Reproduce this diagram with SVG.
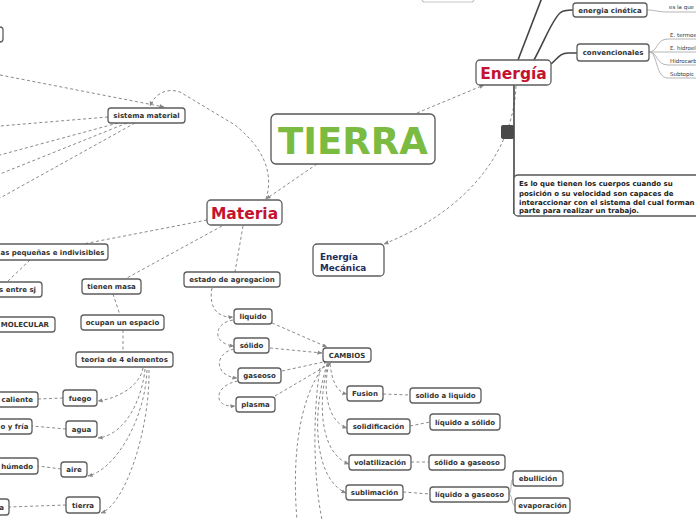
<svg xmlns="http://www.w3.org/2000/svg" width="696" height="520" viewBox="0 0 696 520">
<style>
.b{fill:#fff;stroke:#5e5e5e;stroke-width:1.3}
.t{font-family:"DejaVu Sans",Verdana,sans-serif;font-weight:bold;font-size:7px;fill:#333;text-anchor:middle}
.te{font-family:"DejaVu Sans",Verdana,sans-serif;font-weight:bold;font-size:7px;fill:#333;text-anchor:end}
.ts{font-family:"DejaVu Sans",Verdana,sans-serif;font-weight:bold;font-size:7px;fill:#333}
.d{fill:none;stroke:#8a8a8a;stroke-width:1;stroke-dasharray:3 2.5}
.s{fill:none;stroke:#444;stroke-width:1.6}
.l{fill:none;stroke:#b5b5b5;stroke-width:1}
.sm{font-family:"DejaVu Sans",Verdana,sans-serif;font-size:5.5px;fill:#333}
.big{font-family:"DejaVu Sans",Verdana,sans-serif;font-weight:bold;fill:#c41230;text-anchor:middle}
</style>
<defs>
<marker id="a" viewBox="0 0 6 6" refX="5.5" refY="3" markerWidth="5" markerHeight="5" markerUnits="userSpaceOnUse" orient="auto">
<path d="M0,0.5 L6,3 L0,5.5 Z" fill="#888"/>
</marker>
</defs>
<rect width="696" height="520" fill="#fff"/>
<g id="connectors">
<path class="d" d="M0,75 L164,107" marker-end="url(#a)"/>
<path class="d" d="M266,199 C275,170 260,145 235,125 L180,92 C168,88 156,92 150,106" marker-end="url(#a)"/>
<path class="d" d="M108,117 L0,126"/>
<path class="d" d="M118,123 L0,155"/>
<path class="d" d="M127,123 L0,174"/>
<path class="d" d="M135,123 L0,198"/>
<path class="d" d="M317,164 L266,199" marker-end="url(#a)"/>
<path class="d" d="M417,113 L484,85" marker-end="url(#a)"/>
<path class="d" d="M516,86 C514,140 480,205 384,244" marker-end="url(#a)"/>
<path class="d" d="M207,220 L83,244"/>
<path class="d" d="M30,260 L8,281"/>
<path class="d" d="M222,226 L125,279"/>
<path class="d" d="M243,226 L235,272"/>
<path class="d" d="M113,294 L120,315"/>
<path class="d" d="M123,330 L123,352"/>
<path class="d" d="M212,288 C208,310 220,318 233,317" marker-end="url(#a)"/>
<path class="d" d="M233,320 C213,323 212,344 234,346" marker-end="url(#a)"/>
<path class="d" d="M234,349 C214,353 214,376 237,378" marker-end="url(#a)"/>
<path class="d" d="M238,381 C214,385 212,408 235,406" marker-end="url(#a)"/>
<path class="d" d="M272,323 L327,347" marker-end="url(#a)"/>
<path class="d" d="M270,348 L322,353" marker-end="url(#a)"/>
<path class="d" d="M282,371 L328,361" marker-end="url(#a)"/>
<path class="d" d="M275,396 L331,363" marker-end="url(#a)"/>
<path class="d" d="M330,364 C332,380 336,392 347,394" marker-end="url(#a)"/>
<path class="d" d="M329,364 C322,390 328,422 347,428" marker-end="url(#a)"/>
<path class="d" d="M328,364 C316,410 323,455 349,464" marker-end="url(#a)"/>
<path class="d" d="M327,364 C310,420 316,480 346,493" marker-end="url(#a)"/>
<path class="d" d="M324,366 C298,400 292,460 297,520"/>
<path class="d" d="M320,368 C312,420 314,480 322,520"/>
<path class="d" d="M383,394 L410,395"/>
<path class="d" d="M410,426 L430,422"/>
<path class="d" d="M411,462 L429,462"/>
<path class="d" d="M403,492 L430,494"/>
<path class="l" d="M509,494 C512,494 510,479 513,479"/>
<path class="l" d="M509,494 C512,494 512,506 515,506"/>
<path class="d" d="M143,368 C140,385 120,398 98,401" marker-end="url(#a)"/>
<path class="d" d="M145,369 C142,400 125,435 98,438" marker-end="url(#a)"/>
<path class="d" d="M147,370 C145,420 115,470 88,476" marker-end="url(#a)"/>
<path class="d" d="M149,370 C150,430 125,505 101,513" marker-end="url(#a)"/>
<path class="d" d="M63,398 L38,399"/>
<path class="d" d="M66,429 L32,426"/>
<path class="d" d="M61,469 L38,466"/>
<path class="d" d="M66,505 L9,507"/>
<path class="s" d="M518,60 L543,-5"/>
<path class="s" d="M534,60 C545,40 552,20 560,13 Q563,10 573,10"/>
<path class="s" d="M551,64 C558,58 560,53 568,53 L577,53"/>
<path class="s" d="M514,85 L514,214"/>
<path class="l" d="M647,10 C655,10 658,12 668,12 L696,12"/>
<path class="l" d="M649,52 C658,52 656,39 668,39 L696,39"/>
<path class="l" d="M649,52 C658,52 658,52 668,52 L696,52"/>
<path class="l" d="M649,52 C658,52 656,65 668,65 L696,65"/>
<path class="l" d="M649,52 C658,52 655,78 668,78 L696,78"/>
</g>
<g id="partial-top"><rect x="422" y="-14" width="52" height="16" rx="3" fill="#fff" stroke="#c8c8c8" stroke-width="1.2"/></g>
<g id="partial-topleft"><rect class="b" x="-40" y="27" width="43" height="15" rx="3"/></g>
<g id="tierra-main"><rect x="271" y="114" width="164" height="50" rx="5" fill="#fff" stroke="#555" stroke-width="1.3"/><text x="353" y="154" font-family="DejaVu Sans,Verdana,sans-serif" font-weight="bold" font-size="37" fill="#7cbb42" text-anchor="middle">TIERRA</text></g>
<g id="sistema"><rect class="b" x="108" y="108" width="77" height="15" rx="3"/><text class="t" x="146.5" y="118">sistema material</text></g>
<g id="energia"><rect class="b" x="476" y="60" width="75" height="25" rx="4"/><text class="big" x="513.5" y="78.5" font-size="15.5">Energía</text></g>
<g id="materia"><rect class="b" x="207" y="200" width="75" height="25" rx="4"/><text class="big" x="244.5" y="218.5" font-size="15.5">Materia</text></g>
<g id="cinetica"><rect class="b" x="573" y="3" width="74" height="14" rx="3"/><text class="t" x="610" y="12.5">energia cinética</text></g>
<g id="cinetica-sub"><text class="sm" x="669" y="8.5">es la que</text></g>
<g id="convencionales"><rect class="b" x="577" y="44" width="72" height="17" rx="3"/><text class="t" x="613" y="55">convencionales</text></g>
<g id="conv-subs"><text class="sm" x="670" y="36.5">E. termoe</text><text class="sm" x="670" y="49.5">E. hidroel</text><text class="sm" x="670" y="62.5">Hidrocarb</text><text class="sm" x="670" y="75.5">Subtopic</text></g>
<g id="collapse"><rect x="501" y="125" width="13" height="14" rx="2" fill="#4a4a4a"/></g>
<g id="descripcion"><rect x="514" y="175" width="200" height="41" rx="4" fill="#fff" stroke="#555" stroke-width="1.3"/>
<text font-family="DejaVu Sans,Verdana,sans-serif" font-weight="bold" font-size="7" fill="#222"><tspan x="519" y="186">Es lo que tienen los cuerpos cuando su</tspan><tspan x="519" y="195.5">posición o su velocidad son capaces de</tspan><tspan x="519" y="205">interaccionar con el sistema del cual forman</tspan><tspan x="519" y="213">parte para realizar un trabajo.</tspan></text></g>
<g id="mecanica"><rect class="b" x="313" y="244" width="71" height="32" rx="4"/><text font-family="DejaVu Sans,Verdana,sans-serif" font-weight="bold" font-size="8.8" fill="#1c2c5c"><tspan x="320" y="260">Energía</tspan><tspan x="320" y="271">Mecánica</tspan></text></g>
<g id="pequenas"><rect class="b" x="-60" y="244" width="168" height="16" rx="3"/><text class="ts" x="0.5" y="255" font-size="6.8">as pequeñas e indivisibles</text></g>
<g id="entre"><rect class="b" x="-30" y="282" width="72" height="15" rx="3"/><text class="te" x="36" y="292">s entre sj</text></g>
<g id="molecular"><rect class="b" x="-20" y="317" width="75" height="15" rx="3"/><text class="te" x="49" y="327">MOLECULAR</text></g>
<g id="masa"><rect class="b" x="82" y="279" width="59" height="15" rx="3"/><text class="t" x="111.5" y="289">tienen masa</text></g>
<g id="espacio"><rect class="b" x="81" y="315" width="83" height="15" rx="3"/><text class="t" x="122.5" y="325">ocupan un espacio</text></g>
<g id="teoria"><rect class="b" x="76" y="352" width="97" height="15" rx="3"/><text class="t" x="124.5" y="362">teoria de 4 elementos</text></g>
<g id="fuego"><rect class="b" x="63" y="390" width="34" height="16" rx="3"/><text class="t" x="80" y="400.5">fuego</text></g>
<g id="agua"><rect class="b" x="66" y="421" width="31" height="16" rx="3"/><text class="t" x="81.5" y="431.5">agua</text></g>
<g id="aire"><rect class="b" x="61" y="462" width="26" height="15" rx="3"/><text class="t" x="74" y="472">aire</text></g>
<g id="tierra"><rect class="b" x="66" y="497" width="34" height="16" rx="3"/><text class="t" x="83" y="507.5">tierra</text></g>
<g id="caliente"><rect class="b" x="-30" y="392" width="68" height="15" rx="3"/><text class="te" x="33" y="402">caliente</text></g>
<g id="fria"><rect class="b" x="-30" y="419" width="62" height="15" rx="3"/><text class="ts" x="0.5" y="429">o y fría</text></g>
<g id="humedo"><rect class="b" x="-30" y="458" width="68" height="16" rx="3"/><text class="te" x="33" y="469">húmedo</text></g>
<g id="seca"><rect class="b" x="-30" y="499" width="39" height="16" rx="3"/><text class="te" x="4" y="510">a</text></g>
<g id="estado"><rect class="b" x="184" y="272" width="96" height="15" rx="3"/><text class="t" x="232" y="282">estado de agregacion</text></g>
<g id="liquido"><rect class="b" x="234" y="309" width="38" height="15" rx="3"/><text class="t" x="253" y="319">liquido</text></g>
<g id="solido"><rect class="b" x="234" y="338" width="35" height="15" rx="3"/><text class="t" x="251.5" y="348">sólido</text></g>
<g id="gaseoso"><rect class="b" x="238" y="368" width="43" height="15" rx="3"/><text class="t" x="259.5" y="378">gaseoso</text></g>
<g id="plasma"><rect class="b" x="236" y="397" width="39" height="15" rx="3"/><text class="t" x="255.5" y="407">plasma</text></g>
<g id="cambios"><rect class="b" x="323" y="348" width="48" height="14" rx="3"/><text class="t" x="347" y="357.5">CAMBIOS</text></g>
<g id="fusion"><rect class="b" x="347" y="386" width="36" height="15" rx="3"/><text class="t" x="365" y="396">Fusion</text></g>
<g id="sol-liq"><rect class="b" x="410" y="388" width="71" height="15" rx="3"/><text class="t" x="445.5" y="398">solido a liquido</text></g>
<g id="solidificacion"><rect class="b" x="347" y="419" width="63" height="15" rx="3"/><text class="t" x="378.5" y="429">solidificación</text></g>
<g id="liq-sol"><rect class="b" x="430" y="414" width="70" height="16" rx="3"/><text class="t" x="465" y="425">líquido a sólido</text></g>
<g id="volatilizacion"><rect class="b" x="349" y="455" width="62" height="15" rx="3"/><text class="t" x="380" y="465">volatilización</text></g>
<g id="sol-gas"><rect class="b" x="429" y="455" width="76" height="15" rx="3"/><text class="t" x="467" y="465">sólido a gaseoso</text></g>
<g id="sublimacion"><rect class="b" x="346" y="485" width="57" height="15" rx="3"/><text class="t" x="374.5" y="495">sublimación</text></g>
<g id="liq-gas"><rect class="b" x="430" y="487" width="79" height="15" rx="3"/><text class="t" x="469.5" y="497">líquido a gaseoso</text></g>
<g id="ebullicion"><rect class="b" x="513" y="471" width="50" height="15" rx="3"/><text class="t" x="538" y="481">ebullición</text></g>
<g id="evaporacion"><rect class="b" x="515" y="498" width="55" height="15" rx="3"/><text class="t" x="542.5" y="508">evaporación</text></g>
</svg>
